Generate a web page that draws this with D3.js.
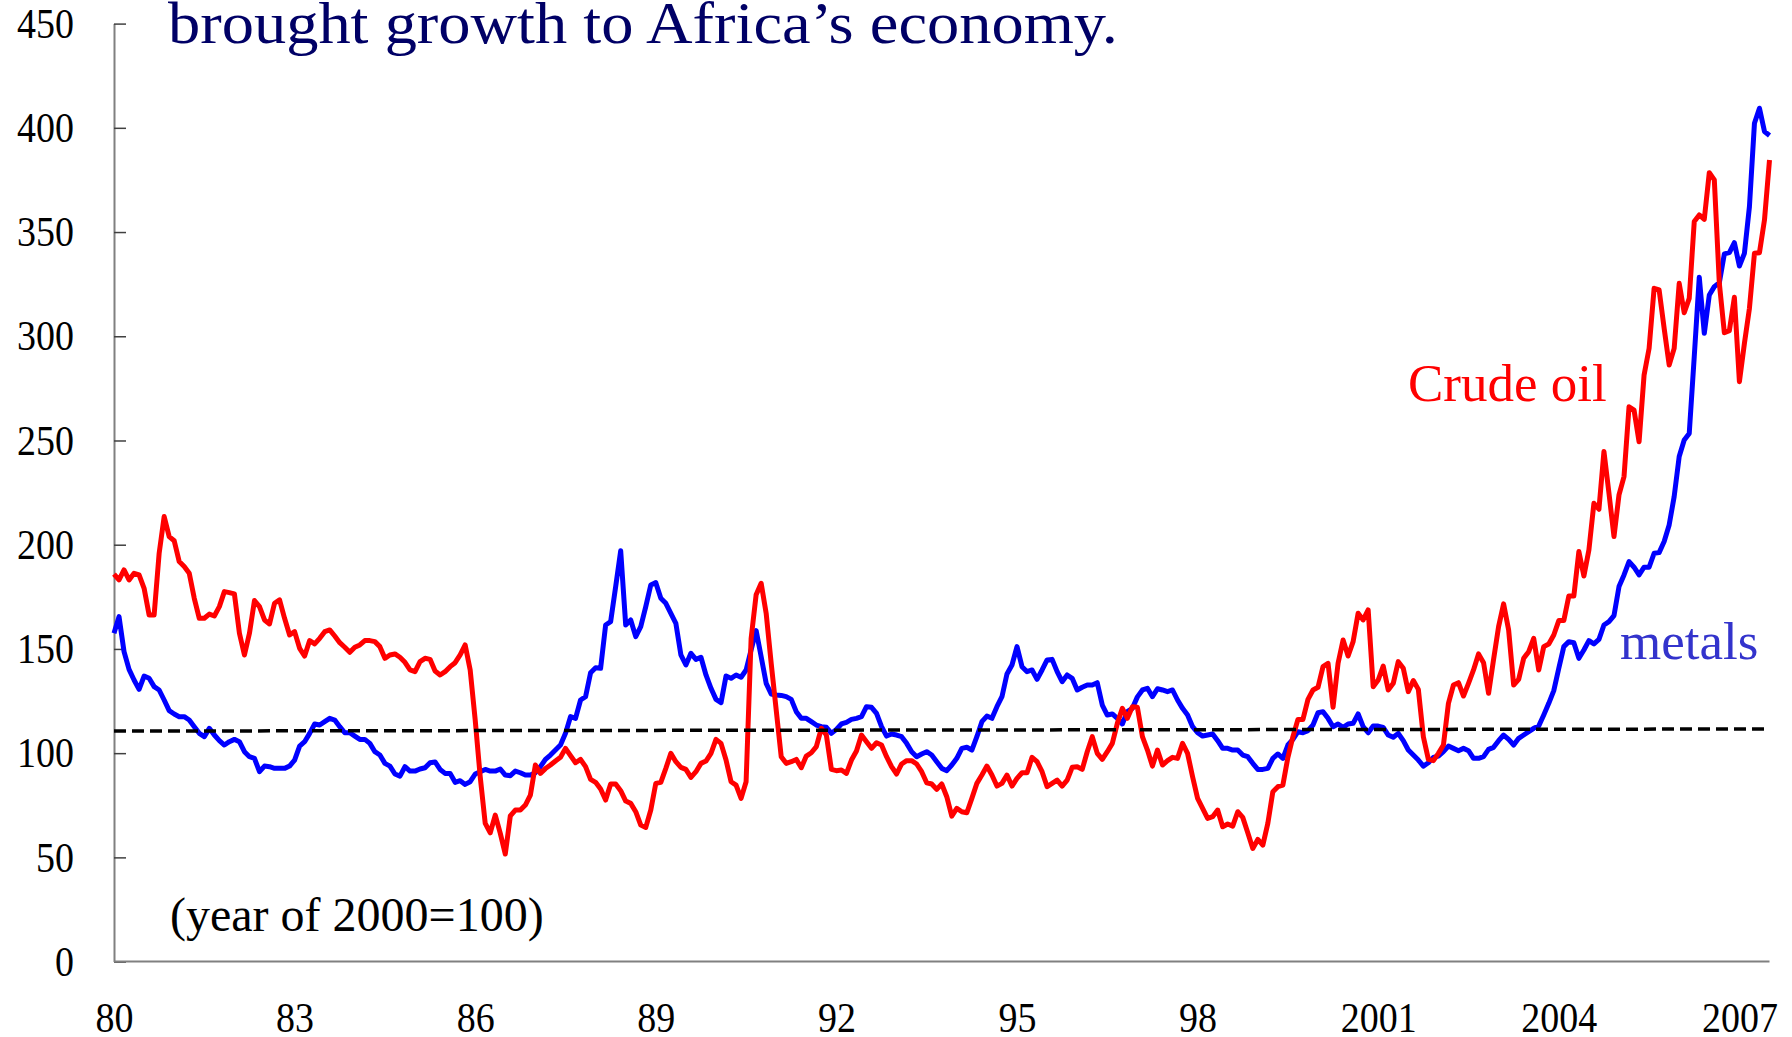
<!DOCTYPE html>
<html>
<head>
<meta charset="utf-8">
<script src="https://cdn.jsdelivr.net/npm/d3@7"></script>
<style>
  body { margin: 0; background: #fff; }
  svg text { font-family: "Liberation Serif", "Times New Roman", serif; }
</style>
</head>
<body>
<svg id="chart" width="1792" height="1037"></svg>
<script>
/* monthly index, 2000 = 100, first value is Jan 1980 */
const startYear = 1980

const crudeOil = [
  185.9,183.1,187.9,183.1,186.3,185.5,179.1,166.3,166.3,195.9,
  213.5,203.9,201.9,191.9,189.5,186.3,174.3,164.7,164.7,166.7,
  165.8,170.3,177.5,177.0,176.4,157.5,147.1,157.5,173.2,170.3,
  163.9,162.0,171.9,173.5,164.7,156.7,158.3,150.3,146.6,154.0,
  152.4,155.1,158.3,159.1,156.2,153.0,150.8,148.4,150.8,151.9,
  154.0,154.0,153.5,151.1,145.5,147.1,147.6,146.0,143.6,139.9,
  139.1,143.9,145.5,145.0,139.4,137.5,139.1,141.5,143.4,147.1,
  151.9,139.9,115.9,88.7,66.3,61.8,70.3,61.5,51.6,69.9,
  72.7,72.7,75.1,79.9,94.3,90.3,92.6,94.3,96.2,98.0,
  102.3,98.8,95.4,97.0,93.5,87.4,86.0,82.8,77.5,85.2,
  85.2,82.0,77.0,75.9,71.9,65.5,64.4,72.7,85.5,86.0,
  92.7,99.9,95.9,93.2,92.2,88.4,91.1,95.1,96.2,99.9,
  106.6,104.7,96.7,86.3,84.7,78.3,86.3,155.0,176.0,181.5,
  167.1,143.1,120.7,98.3,95.1,95.9,97.0,93.0,98.6,100.2,
  103.1,111.9,108.7,92.2,91.6,91.9,90.3,96.7,101.0,108.7,
  105.5,102.3,105.0,103.9,98.3,93.5,90.0,94.8,96.4,96.4,
  94.8,91.1,85.8,85.2,82.6,85.2,79.1,69.8,73.5,71.9,
  71.4,78.3,85.5,89.5,93.8,89.5,84.2,85.5,89.5,84.2,
  87.9,90.6,90.6,98.0,95.9,91.1,83.9,85.5,87.1,84.2,
  87.1,93.2,93.5,92.2,100.7,107.9,99.9,97.0,100.7,104.7,
  114.3,121.5,116.7,122.3,122.0,107.9,101.5,93.8,101.5,94.3,
  96.4,98.0,97.5,104.7,99.9,88.7,78.3,73.5,68.7,69.5,
  72.7,64.7,66.0,65.0,71.9,69.2,61.8,54.3,58.6,55.9,
  66.3,81.5,83.9,84.7,98.0,107.9,116.2,116.2,125.8,130.3,
  131.6,141.5,143.1,122.0,143.1,154.3,146.6,153.5,167.1,163.9,
  168.7,131.9,135.1,141.8,130.3,133.5,143.9,140.7,129.5,134.8,
  130.6,107.9,97.0,96.4,99.9,103.9,123.9,132.7,133.8,127.4,
  133.5,139.9,147.6,143.4,128.7,145.0,160.7,171.6,159.1,132.7,
  135.4,145.5,148.7,155.1,139.9,151.1,152.4,156.7,163.6,163.6,
  175.4,175.4,196.7,185.0,197.5,219.9,217.0,244.7,224.7,203.9,
  223.9,232.7,266.2,264.6,249.4,281.4,294.2,323.0,322.2,303.8,
  286.2,294.2,325.4,311.3,318.2,355.0,358.2,356.1,378.5,375.0,
  325.4,301.7,302.7,318.7,278.2,296.6,313.4,339.8,340.1,355.8,
  384.6
]

const metals = [
  157.5,165.5,148.7,140.2,135.1,130.6,137.0,135.9,131.9,130.3,
  125.5,120.4,118.8,117.5,117.5,115.9,112.7,109.5,107.9,111.9,
  108.7,106.0,103.9,105.5,106.6,105.5,100.7,98.3,97.5,91.1,
  93.8,93.5,92.7,92.7,92.7,93.8,96.7,103.4,105.5,109.5,
  114.0,113.5,115.1,116.7,115.9,112.7,109.8,109.8,108.2,106.6,
  106.6,104.7,100.7,99.1,95.1,93.8,90.0,89.0,93.5,91.4,
  91.4,92.4,93.0,95.4,95.8,92.2,90.3,90.3,86.0,86.8,
  85.0,86.3,90.0,91.1,92.2,91.4,91.4,92.4,89.5,89.2,
  91.4,90.6,89.5,89.5,90.6,93.5,97.0,99.1,101.5,103.9,
  109.5,117.5,116.7,125.5,127.1,138.6,141.0,140.7,161.5,163.1,
  179.9,197.1,161.5,163.9,155.9,160.7,170.3,180.7,181.8,174.3,
  171.9,167.1,162.3,147.1,142.3,147.9,145.0,146.0,137.5,131.1,
  125.8,124.2,137.0,135.9,137.5,136.4,139.9,149.5,158.8,146.3,
  133.5,128.4,127.9,127.7,127.1,125.8,119.9,116.7,116.7,115.1,
  113.5,112.7,112.4,109.5,111.4,114.0,114.8,116.2,116.7,117.5,
  122.3,122.0,119.1,112.7,108.2,109.2,108.7,107.9,104.7,100.7,
  98.3,99.6,100.7,99.1,95.9,92.7,91.6,94.3,97.5,102.3,
  102.8,101.5,107.9,115.1,117.8,116.7,122.3,127.1,138.0,142.3,
  151.1,141.5,139.1,139.9,135.4,139.9,144.7,145.0,139.1,134.3,
  137.5,135.9,130.3,131.6,132.7,132.7,133.8,123.1,118.3,118.8,
  116.7,114.0,119.9,121.5,127.0,130.3,131.1,127.1,130.9,130.3,
  129.5,130.3,125.5,121.5,118.3,112.7,109.8,108.2,108.7,109.2,
  106.0,102.3,102.3,101.5,101.5,99.1,98.3,95.1,92.2,92.2,
  92.7,97.5,99.6,97.5,103.9,106.6,110.3,109.8,110.8,113.5,
  119.4,119.9,116.7,112.7,114.0,112.4,114.0,114.3,118.8,112.7,
  109.8,113.0,113.0,112.4,108.7,107.6,109.5,106.0,101.5,99.1,
  96.7,93.8,95.4,98.0,98.6,100.7,103.4,102.3,101.2,102.3,
  101.2,97.5,97.5,98.3,101.8,102.8,106.0,108.7,106.6,103.9,
  107.1,108.7,110.3,111.9,113.0,118.3,123.9,130.0,140.7,151.1,
  153.5,153.0,145.5,149.5,154.0,152.4,154.6,161.5,163.1,166.0,
  179.9,185.5,191.9,189.2,185.5,189.2,189.2,195.9,196.2,201.5,
  209.5,223.1,242.3,250.2,253.4,290.2,328.3,301.4,319.8,323.8,
  325.7,339.5,340.1,344.9,333.7,339.8,362.2,402.2,409.4,398.2,
  396.3
]

/* dashed reference line, value at start and end */
const refLine = [110.6, 111.6]

const yTicks = [0, 50, 100, 150, 200, 250, 300, 350, 400, 450]
const xTickYears = [1980, 1983, 1986, 1989, 1992, 1995, 1998, 2001, 2004, 2007]
const xTickLabels = ['80', '83', '86', '89', '92', '95', '98', '2001', '2004', '2007']


const svg = d3.select('#chart')

/* 画布范围 */
const plotL = 114, plotR = 1769.5, plotT = 23.6, plotB = 961.6
/* the slide's text is a bit taller than plain Times */
const stretch = 1.12

const x = d3.scaleLinear().domain([1980, 2007.5]).range([plotL, plotR])
const y = d3.scaleLinear().domain([0, 450]).range([plotB, plotT])

/* title, top edge touches the slide border */
svg.append('text')
    .attr('x', 168)
    .attr('y', 43)
    .attr('fill', '#000066')
    .attr('font-size', 60)
    .attr('textLength', 950)
    .attr('lengthAdjust', 'spacingAndGlyphs')
    .text('brought growth to Africa\u2019s economy.')

/* y axis, ticks point inside */
const yAxis = svg.append('g')
    .attr('transform', `translate(${plotL},0)`)
    .call(d3.axisLeft(y).tickValues(yTicks).tickSizeInner(-12).tickSizeOuter(0).tickPadding(40))

yAxis.select('.domain').attr('stroke', '#808080').attr('stroke-width', 2)
yAxis.selectAll('.tick line').attr('stroke', '#404040').attr('stroke-width', 1.5)
yAxis.selectAll('.tick text')
    .attr('font-size', 38)
    .attr('fill', '#000')
    .attr('transform', `scale(1,${stretch})`)

/* x axis */
const xAxis = svg.append('g')
    .attr('transform', `translate(0,${plotB})`)
    .call(d3.axisBottom(x).tickValues(xTickYears).tickSize(0)
        .tickFormat((d, i) => xTickLabels[i]))

xAxis.select('.domain').remove()
xAxis.selectAll('.tick text')
    .attr('y', 70 / stretch)
    .attr('dy', 0)
    .attr('font-size', 38)
    .attr('fill', '#000')
    .attr('transform', `scale(1,${stretch})`)

svg.append('line')
    .attr('x1', plotL).attr('x2', plotR)
    .attr('y1', plotB).attr('y2', plotB)
    .attr('stroke', '#808080')
    .attr('stroke-width', 2)

/* lines */
const line = d3.line()
    .x((d, i) => x(startYear + i / 12))
    .y(d => y(d))

svg.append('path')
    .datum(metals)
    .attr('d', line)
    .attr('fill', 'none')
    .attr('stroke', '#0000ff')
    .attr('stroke-width', 5)
    .attr('stroke-linejoin', 'round')

svg.append('path')
    .datum(crudeOil)
    .attr('d', line)
    .attr('fill', 'none')
    .attr('stroke', '#ff0000')
    .attr('stroke-width', 5)
    .attr('stroke-linejoin', 'round')

/* 虚线 */
svg.append('line')
    .attr('x1', x(1980)).attr('y1', y(refLine[0]))
    .attr('x2', x(2007.5)).attr('y2', y(refLine[1]))
    .attr('stroke', '#000')
    .attr('stroke-width', 3.5)
    .attr('stroke-dasharray', '12,6')

/* labels */
svg.append('text')
    .attr('x', 1408).attr('y', 401)
    .attr('fill', '#ff0000')
    .attr('font-size', 53)
    .text('Crude oil')

svg.append('text')
    .attr('x', 1620).attr('y', 659)
    .attr('fill', '#3333cc')
    .attr('font-size', 53)
    .text('metals')

svg.append('text')
    .attr('x', 170).attr('y', 931)
    .attr('fill', '#000')
    .attr('font-size', 48)
    .text('(year of 2000=100)')
</script>
</body>
</html>
